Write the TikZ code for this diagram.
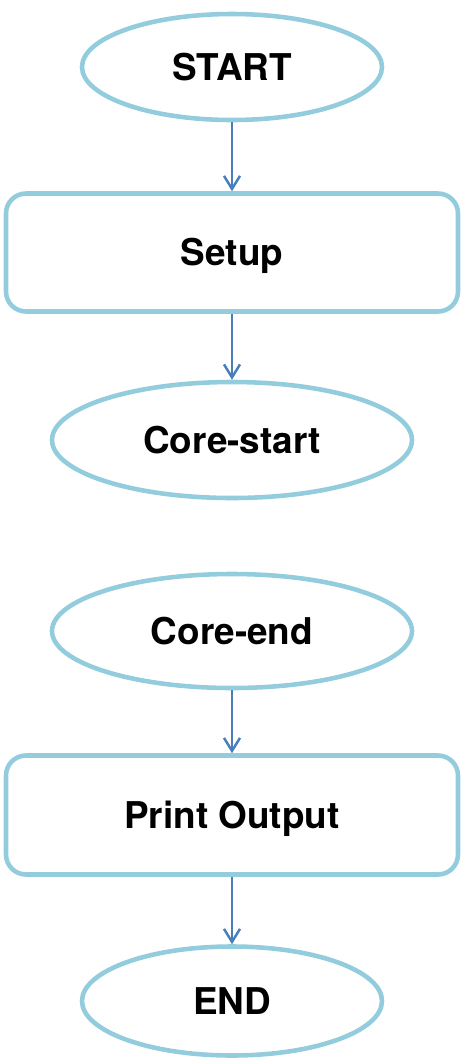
\documentclass[tikz,border=0pt]{standalone}
\usepackage{fontspec}
\setmainfont{TeX Gyre Heros}
\usepackage{xcolor}
\usetikzlibrary{shapes.geometric,arrows.meta}

\definecolor{boxline}{HTML}{93CDDD}
\definecolor{flowline}{HTML}{4A7EBB}

\tikzset{
  terminal/.style={ellipse,draw=boxline,line width=2.6pt,inner sep=0pt,
    text height=0.53cm,text depth=0pt,font=\fontsize{21}{25}\selectfont\bfseries},
  process/.style={rectangle,rounded corners=0.4cm,draw=boxline,line width=2.6pt,
    minimum width=9.04cm,inner sep=0pt,text height=0.53cm,text depth=0pt,
    font=\fontsize{21}{25}\selectfont\bfseries},
  flow/.style={flowline,line width=1.1pt,-{Straight Barb[length=0.26cm,width=0.32cm,line width=1.4pt]}}
}

\begin{document}
\begin{tikzpicture}
  \useasboundingbox (0,0) rectangle (9.24,-21.26);
  % first part
  \node[terminal,minimum width=6.0cm,minimum height=2.12cm] (start) at (4.64,-1.34) {START};
  \node[process,minimum height=2.36cm] (setup) at (4.64,-5.05) {Setup};
  \node[terminal,minimum width=7.2cm,minimum height=2.32cm] (corestart) at (4.64,-8.8) {Core-start};
  % second part
  \node[terminal,minimum width=7.2cm,minimum height=2.28cm] (coreend) at (4.64,-12.62) {Core-end};
  \node[process,minimum height=2.38cm] (output) at (4.64,-16.3) {Print Output};
  \node[terminal,minimum width=6.0cm,minimum height=2.18cm] (end) at (4.64,-20.02) {END};

  \draw[flow] (start) -- (setup);
  \draw[flow] (setup) -- (corestart);
  \draw[flow] (coreend) -- (output);
  \draw[flow] (output) -- (end);
\end{tikzpicture}
\end{document}
